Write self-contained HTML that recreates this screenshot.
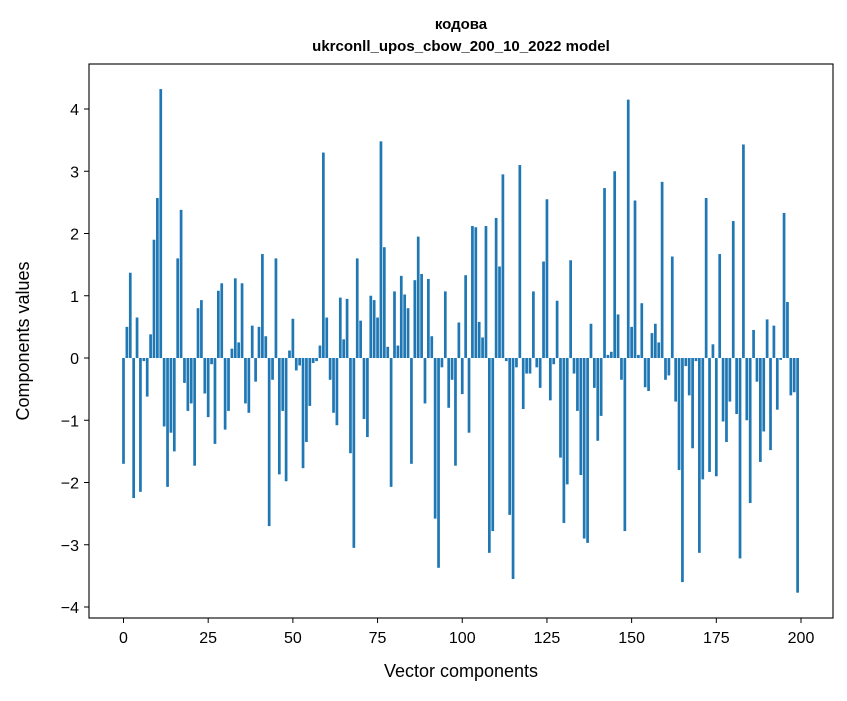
<!DOCTYPE html>
<html><head><meta charset="utf-8"><style>
body{margin:0;background:#fff;}
svg text{font-family:"Liberation Sans","DejaVu Sans",sans-serif;}
</style></head><body>
<svg id="chart" width="847" height="696" xmlns="http://www.w3.org/2000/svg">
<rect width="847" height="696" fill="#fff"/>
<text x="461" y="29" text-anchor="middle" font-size="15" font-weight="bold">кодова</text>
<text x="461" y="51" text-anchor="middle" font-size="15" font-weight="bold">ukrconll_upos_cbow_200_10_2022 model</text>
<g id="bars"></g>
<rect x="89" y="64" width="744" height="554" fill="none" stroke="#000" stroke-width="1.1"/>
<g id="xticks"></g>
<g id="yticks"></g>
<text x="461" y="677" text-anchor="middle" font-size="18">Vector components</text>
<text transform="translate(29,341) rotate(-90)" text-anchor="middle" font-size="18">Components values</text>
</svg>
<script>
const values = [-1.7,0.5,1.37,-2.25,0.65,-2.15,-0.05,-0.62,0.38,1.9,2.57,4.32,-1.1,-2.07,-1.2,-1.5,1.6,2.38,-0.4,-0.85,-0.73,-1.73,0.8,0.93,-0.57,-0.95,-0.1,-1.38,1.08,1.2,-1.15,-0.85,0.15,1.28,0.25,1.2,-0.73,-0.88,0.52,-0.38,0.5,1.67,0.35,-2.7,-0.35,1.6,-1.87,-0.85,-1.98,0.12,0.63,-0.2,-0.12,-1.77,-1.35,-0.77,-0.08,-0.05,0.2,3.3,0.65,-0.35,-0.88,-1.08,0.97,0.3,0.95,-1.53,-3.05,1.6,0.6,-0.98,-1.27,1.0,0.93,0.65,3.48,1.78,0.18,-2.07,1.07,0.2,1.32,1.02,0.8,-1.7,1.25,1.95,1.35,-0.73,1.27,0.35,-2.58,-3.37,-0.15,1.07,-0.8,-0.35,-1.73,0.57,-0.58,1.33,-1.2,2.12,2.1,0.58,0.33,2.12,-3.13,-2.78,2.25,1.47,2.95,-0.05,-2.52,-3.55,-0.15,3.1,-0.82,-0.25,-0.25,1.07,-0.15,-0.48,1.55,2.55,-0.68,-0.1,0.92,-1.6,-2.65,-2.03,1.57,-0.25,-0.85,-1.88,-2.9,-2.97,0.55,-0.48,-1.33,-0.93,2.73,0.05,0.1,3.0,0.7,-0.35,-2.78,4.15,0.5,2.53,0.05,0.88,-0.47,-0.53,0.4,0.55,0.25,2.83,-0.35,-0.28,1.63,-0.7,-1.8,-3.6,-0.13,-0.6,-1.45,-0.05,-3.13,-1.95,2.57,-1.83,0.22,-1.9,1.67,-1.02,-1.35,-0.7,2.2,-0.9,-3.22,3.43,-1.0,-2.33,0.45,-0.38,-1.67,-1.18,0.62,-1.48,0.52,-0.83,-0.03,2.33,0.9,-0.6,-0.55,-3.77];
const xTicks = [0,25,50,75,100,125,150,175,200];
const yTicks = [-4,-3,-2,-1,0,1,2,3,4];
const NS='http://www.w3.org/2000/svg';
function xs(v){return 123.5+(v)*3.3875;}
function ys(v){return 358-v*62.25;}
const bars=document.getElementById('bars');
values.forEach((v,i)=>{
  const r=document.createElementNS(NS,'rect');
  
  
  const x0=xs(i-0.4), x1=xs(i+0.4);
  r.setAttribute('x',x0);r.setAttribute('width',x1-x0);
  r.setAttribute('y',Math.min(ys(v),ys(0)));
  r.setAttribute('height',Math.abs(ys(v)-ys(0)));
  r.setAttribute('fill','#1f77b4');
  bars.appendChild(r);
});
const xg=document.getElementById('xticks');
xTicks.forEach(t=>{
  const l=document.createElementNS(NS,'line');
  
  
  l.setAttribute('x1',xs(t));l.setAttribute('x2',xs(t));l.setAttribute('y1',618);l.setAttribute('y2',623);l.setAttribute('stroke','#000');
  xg.appendChild(l);
  const tx=document.createElementNS(NS,'text');
  
  
  tx.setAttribute('x',xs(t));tx.setAttribute('y',643);tx.setAttribute('text-anchor','middle');tx.setAttribute('font-size','16');
  tx.textContent=t;xg.appendChild(tx);
});
const yg=document.getElementById('yticks');
yTicks.forEach(t=>{
  const l=document.createElementNS(NS,'line');
  
  
  l.setAttribute('x1',84);l.setAttribute('x2',89);l.setAttribute('y1',ys(t));l.setAttribute('y2',ys(t));l.setAttribute('stroke','#000');
  yg.appendChild(l);
  const tx=document.createElementNS(NS,'text');
  
  
  tx.setAttribute('x',79);tx.setAttribute('y',ys(t)+6);tx.setAttribute('text-anchor','end');tx.setAttribute('font-size','16');
  tx.textContent=t<0?'\u2212'+Math.abs(t):t;yg.appendChild(tx);
});
</script>
</body></html>
